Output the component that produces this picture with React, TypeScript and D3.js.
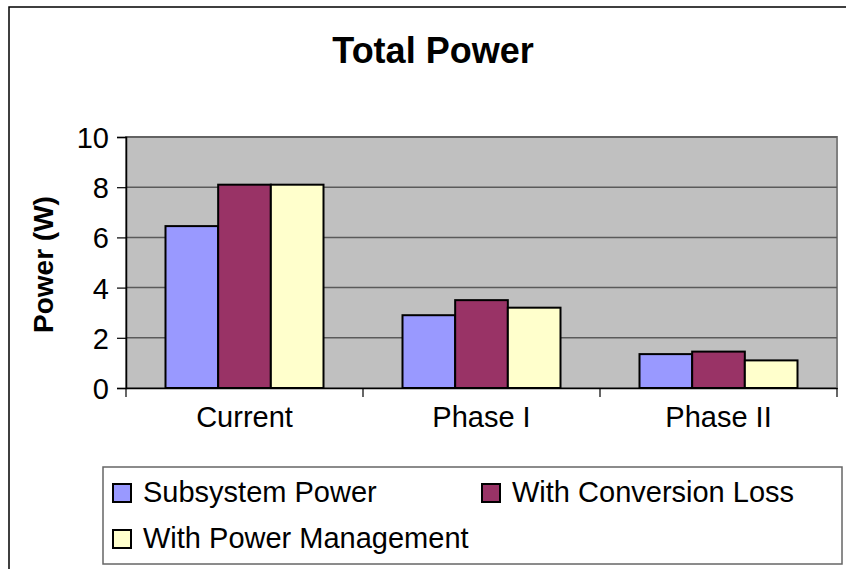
import React, { useEffect, useRef } from 'react';
import * as d3 from 'd3';

const categories = ['Current', 'Phase I', 'Phase II'];
const seriesNames = ['Subsystem Power', 'With Conversion Loss', 'With Power Management'];
const subsystemPower = [6.45, 2.9, 1.35];
const withConversionLoss = [8.1, 3.5, 1.45];
const withPowerManagement = [8.1, 3.2, 1.1];
const yTicks = [0, 2, 4, 6, 8, 10];
const colors = ['#9999FF', '#993366', '#FFFFCC'];

const FONT = '"Liberation Sans", Arial, sans-serif';

const App = () => {
  const svgRef = useRef<SVGSVGElement>(null);

  useEffect(() => {
    const svg = d3.select(svgRef.current);
    svg.selectAll('*').remove();
    const width = 846;
    const height = 569;

    // plot area
    const left = 126, right = 837, top = 137, bottom = 388;

    // outer chart frame (runs past the picture on right/bottom)
    svg.append('rect')
      .attr('x', 9).attr('y', 7)
      .attr('width', 900).attr('height', 600)
      .attr('fill', '#fff').attr('stroke', '#000').attr('stroke-width', 1.5);

    svg.append('text')
      .attr('x', 433).attr('y', 63)
      .attr('text-anchor', 'middle')
      .attr('font-family', FONT).attr('font-size', 36).attr('font-weight', 'bold')
      .text('Total Power');

    const x = d3.scaleBand().domain(categories).range([left, right]);
    const xInner = d3.scaleBand().domain(seriesNames).range([0, x.bandwidth()]).paddingOuter(0.75);
    const y = d3.scaleLinear().domain([0, 10]).range([bottom, top]);

    svg.append('rect')
      .attr('x', left).attr('y', top)
      .attr('width', right - left).attr('height', bottom - top)
      .attr('fill', '#C0C0C0').attr('stroke', '#808080').attr('stroke-width', 2);

    // gridlines
    svg.append('g')
      .selectAll('line')
      .data(yTicks.filter(d => d > 0))
      .join('line')
      .attr('x1', left).attr('x2', right)
      .attr('y1', d => y(d)).attr('y2', d => y(d))
      .attr('stroke', '#5a5a5a').attr('stroke-width', 1.5);

    // bars
    const rows = categories.map((c, i) => ({
      cat: c,
      values: [subsystemPower[i], withConversionLoss[i], withPowerManagement[i]],
    }));
    svg.append('g')
      .selectAll('g')
      .data(rows)
      .join('g')
      .attr('transform', d => `translate(${x(d.cat)},0)`)
      .selectAll('rect')
      .data(d => d.values.map((v, j) => ({ v, s: seriesNames[j], j })))
      .join('rect')
      .attr('x', d => xInner(d.s)!)
      .attr('y', d => y(d.v))
      .attr('width', xInner.bandwidth())
      .attr('height', d => bottom - y(d.v))
      .attr('fill', d => colors[d.j])
      .attr('stroke', '#000').attr('stroke-width', 2);

    // Y axis
    const yAxis = svg.append('g')
      .attr('transform', `translate(${left},0)`)
      .call(d3.axisLeft(y).tickValues(yTicks).tickSize(9).tickPadding(8).tickFormat(d3.format('d')));
    yAxis.select('.domain').attr('stroke', '#000').attr('stroke-width', 1.5);
    yAxis.selectAll('.tick line').attr('stroke', '#000').attr('stroke-width', 1.2);
    yAxis.selectAll('text')
      .attr('font-family', FONT).attr('font-size', 29).attr('fill', '#000')
      .attr('dy', '0.36em');

    // X axis
    const xAxis = svg.append('g')
      .attr('transform', `translate(0,${bottom})`)
      .call(d3.axisBottom(x).tickSize(0).tickPadding(30));
    xAxis.select('.domain').attr('stroke', '#000').attr('stroke-width', 1.5);
    xAxis.selectAll('text')
      .attr('font-family', FONT).attr('font-size', 29).attr('fill', '#000')
      .attr('dy', '0.3em');
    // category boundary ticks
    const bounds = categories.map(c => x(c)!).concat([right]);
    svg.append('g')
      .selectAll('line')
      .data(bounds)
      .join('line')
      .attr('x1', d => d).attr('x2', d => d)
      .attr('y1', bottom).attr('y2', bottom + 9)
      .attr('stroke', '#000').attr('stroke-width', 1.2);

    svg.append('text')
      .attr('transform', `translate(53,${(top + bottom) / 2 + 2}) rotate(-90)`)
      .attr('text-anchor', 'middle')
      .attr('font-family', FONT).attr('font-size', 28).attr('font-weight', 'bold')
      .text('Power (W)');

    // legend
    svg.append('rect')
      .attr('x', 103).attr('y', 467)
      .attr('width', 739).attr('height', 97)
      .attr('fill', '#fff').attr('stroke', '#666').attr('stroke-width', 1.5);
    const colX = [113, 482];
    const rowY = [502, 548];
    const items = svg.append('g')
      .selectAll('g')
      .data(seriesNames)
      .join('g')
      .attr('transform', (d, i) => `translate(${colX[i % 2]},${rowY[Math.floor(i / 2)]})`);
    items.append('rect')
      .attr('x', 0).attr('y', -18)
      .attr('width', 18).attr('height', 18)
      .attr('fill', (d, i) => colors[i])
      .attr('stroke', '#000').attr('stroke-width', 2);
    items.append('text')
      .attr('x', 30).attr('y', 0)
      .attr('font-family', FONT).attr('font-size', 29)
      .text(d => d);

    svg.attr('width', width).attr('height', height);
  }, []);

  return (
    <svg
      ref={svgRef}
      width={846}
      height={569}
      style={{ position: 'absolute', left: 0, top: 0, background: '#fff' }}
    ></svg>
  );
};

export default App;
